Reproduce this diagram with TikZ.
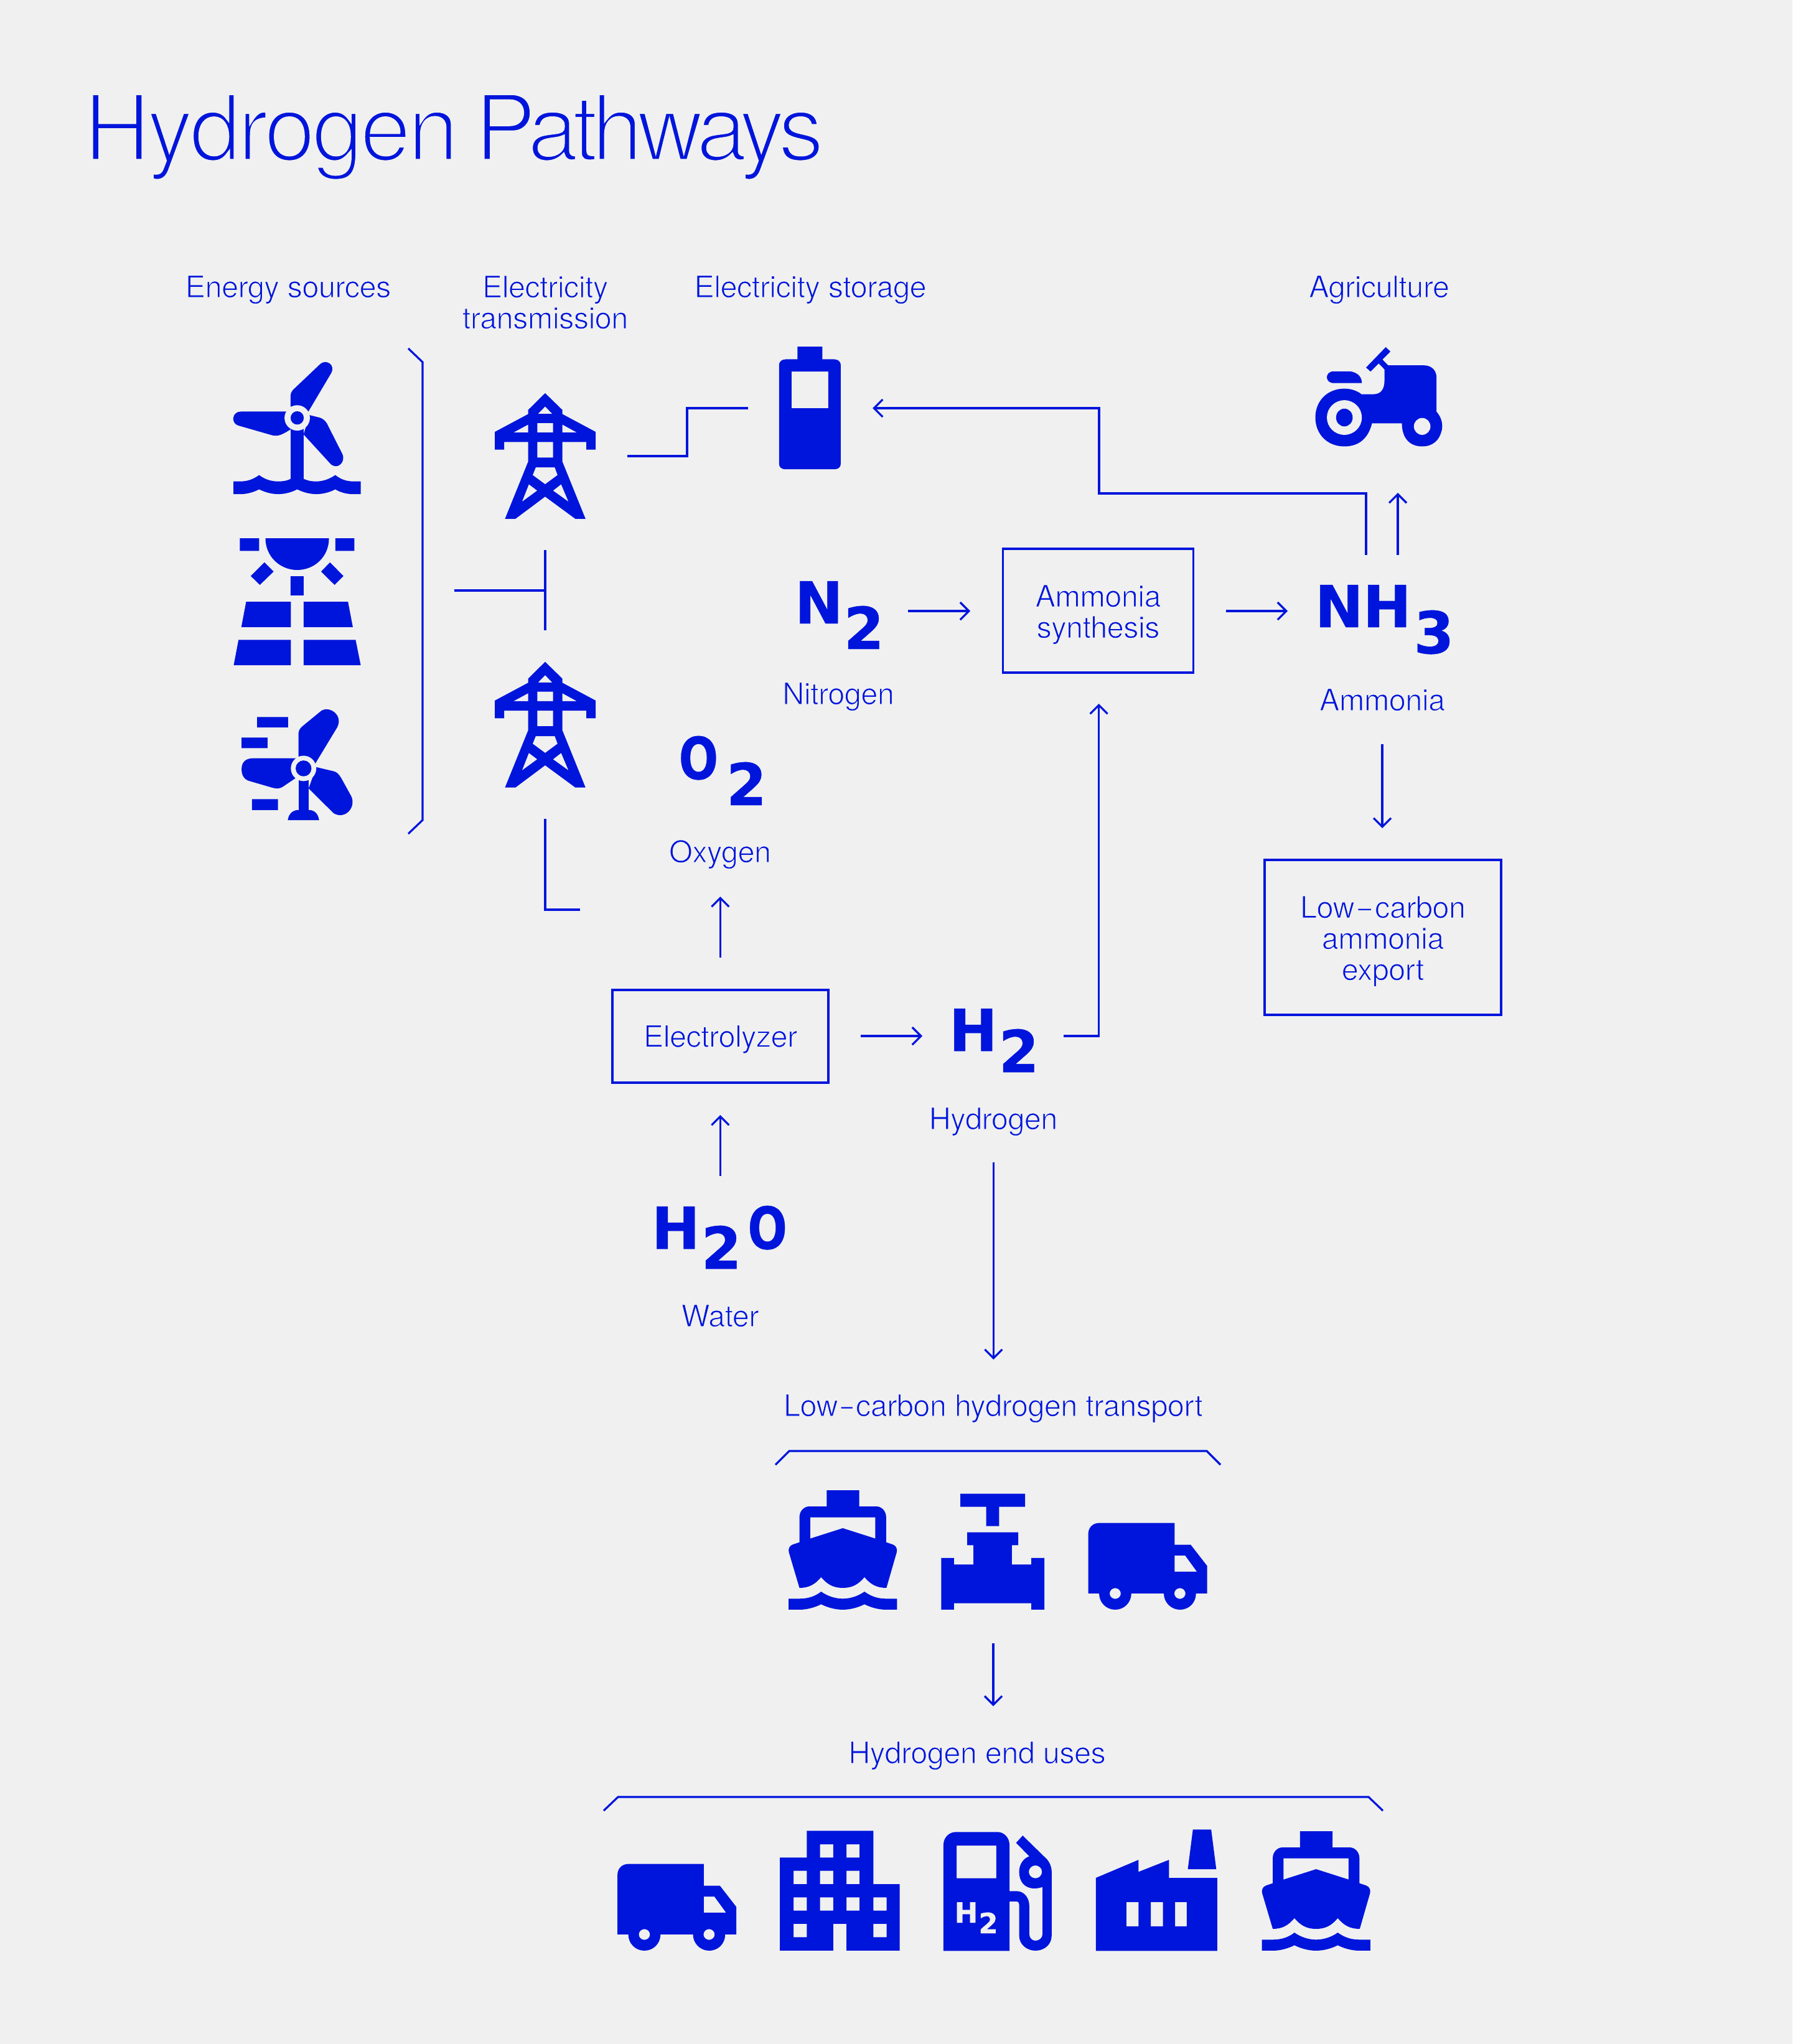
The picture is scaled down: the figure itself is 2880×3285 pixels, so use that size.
\documentclass[tikz,border=0pt]{standalone}
\usepackage{fontspec}
\usetikzlibrary{arrows.meta}
\setmainfont{TeX Gyre Heros}
\newfontfamily\lblfont{TeX Gyre Heros}[LetterSpace=-1.2]
\newfontfamily\ttlfont{TeX Gyre Heros}[LetterSpace=-6.5]
\newfontfamily\ttlwide{TeX Gyre Heros}[LetterSpace=-3.7]
\newfontfamily\chemfont{DejaVu Sans Bold}[FakeBold=0.5]
\definecolor{hblue}{HTML}{0015DC}
\definecolor{bgc}{HTML}{F0F0F0}
\newdimen\px \px=0.1mm
\newcommand{\lw}[1]{\special{pdf:code 2 Tr 0.941 0.941 0.941 RG 0.34 w}#1\special{pdf:code 0 Tr}}
\newcommand{\tw}[1]{\special{pdf:code 2 Tr 0.941 0.941 0.941 RG 1.5 w}#1\special{pdf:code 0 Tr}}
\newcommand{\fs}{\rule{0pt}{48\px}}
\newcommand{\sub}[3]{\kern#1\px\lower#2\px\hbox{#3}}
\newcommand{\narrowO}{\scalebox{.8}[1]{O}}
\newcommand{\longhy}[1]{\scalebox{#1}[1]{\lw{-}}}
\tikzset{
  z1/.style={shift={(340,540)},x=.04082mm,y=-.05102mm},
  z2/.style={shift={(1200,2360)},x=.04974mm,y=-.03333mm},
  z3/.style={shift={(960,2900)},x=.08163mm,y=-.03333mm},
  z4/.style={shift={(1200,540)},x=.07398mm,y=-.03571mm},
  ink/.style={fill=hblue,draw=none},
  gapfill/.style={fill=bgc,draw=none},
  conn/.style={draw=hblue,line width=.32mm},
  arr/.style={conn,-{Straight Barb[length=1.4mm,width=2.8mm]}},
  txt/.style={text=hblue,inner sep=0pt,font=\lblfont\fontsize{13.85}{14.22}\selectfont},
  lab/.style={txt,anchor=base},
  procbox/.style={txt,draw=hblue,line width=.32mm,align=center},
  chem/.style={text=hblue,inner sep=0pt,anchor=base west,font=\chemfont\fontsize{26.5}{28}\selectfont},
}
\newcommand{\pylonpath}{(1313,180)--(1381,233)--(1381,246)--(1512,302)--(1512,358)--(1475,358)--(1475,334)--(1381,334)--(1381,396)--(1472,576)--(1432,576)--(1313,506)--(1196,576)--(1155,576)--(1246,396)--(1246,334)--(1152,334)--(1152,358)--(1115,358)--(1115,302)--(1246,246)--(1246,233)--cycle
 (1313,222)--(1341,245)--(1285,245)--cycle
 (1246,279)--(1246,304)--(1188,304)--cycle
 (1381,279)--(1381,304)--(1438,304)--cycle
 (1282,274) rectangle (1344,304)
 (1282,334) rectangle (1344,383)
 (1276,414)--(1351,414)--(1362,438)--(1313,467)--(1264,438)--cycle
 (1249,467)--(1282,487)--(1222,522)--cycle
 (1376,467)--(1405,522)--(1344,487)--cycle}
\newcommand{\shippath}{(258,105)--(363,105)--(363,183)--(418,183) .. controls (435,183) and (450,205) .. (450,235)--(450,356)--(472,367) .. controls (483,373) and (487,390) .. (484,405)--(451,576) .. controls (420,576) and (400,560) .. (380,524) .. controls (360,560) and (340,576) .. (310,576) .. controls (280,576) and (260,560) .. (240,524) .. controls (220,560) and (200,576) .. (170,576)--(136,405) .. controls (133,390) and (137,373) .. (148,367)--(170,356)--(170,235) .. controls (170,205) and (185,183) .. (202,183)--(258,183)--cycle
 (205,236)--(415,236)--(415,338)--(310,288)--(205,338)--cycle
 (135,628)--(170,628) .. controls (200,628) and (222,615) .. (240,594) .. controls (260,615) and (285,628) .. (310,628) .. controls (335,628) and (360,615) .. (380,594) .. controls (400,615) and (420,628) .. (450,628)--(485,628)--(485,681)--(450,681) .. controls (425,681) and (400,670) .. (380,655) .. controls (360,670) and (335,681) .. (310,681) .. controls (285,681) and (260,670) .. (240,655) .. controls (220,670) and (195,681) .. (170,681)--(135,681)--cycle}
\newcommand{\truckpath}{(1138,263)--(1382,263)--(1382,368)--(1434,368)--(1487,470)--(1487,603)--(1451,603) .. controls (1451,645) and (1430,681) .. (1399,681) .. controls (1370,681) and (1347,645) .. (1347,603)--(1242,603) .. controls (1242,645) and (1220,681) .. (1190,681) .. controls (1160,681) and (1138,645) .. (1138,603)--(1103,603)--(1103,315) .. controls (1103,285) and (1118,263) .. (1138,263)--cycle
 (1382,420)--(1416,420)--(1454,498)--(1382,498)--cycle
 (1190,603) ellipse [x radius=18,y radius=26]
 (1399,603) ellipse [x radius=18,y radius=26]}
\begin{document}
\begin{tikzpicture}[x=0.1mm,y=-0.1mm]
\fill[bgc] (0,0) rectangle (2880,3285);
\useasboundingbox (0,0) rectangle (2880,3285);

% ---- title and labels
\node[text=hblue,inner sep=0pt,anchor=base west,font=\ttlfont\fontsize{42.1}{44}\selectfont] (title) at (134,258) {\tw{{\ttlwide Hydrogen}\kern-6\px{} Pathways}};
\node[lab] (lEnergy) at (463,478) {\lw{Energy sources}};
\node[txt,anchor=north,align=center] (lTrans) at (876,442) {\lw{Electricity}\\\lw{transmission}};
\node[lab] (lStore) at (1302,478) {\lw{Electricity storage}};
\node[lab] (lAgri) at (2216,478) {\lw{Agriculture}};
\node[lab] (lN) at (1347,1132) {\lw{Nitrogen}};
\node[lab] (lNH) at (2221,1142) {\lw{Ammonia}};
\node[lab] (lO) at (1157,1386) {\lw{Oxygen}};
\node[lab] (lH) at (1596,1815) {\lw{Hydrogen}};
\node[lab] (lW) at (1157,2132) {\lw{Water}};
\node[lab] (lTransport) at (1596,2276) {\lw{Low}\longhy{1.75}\lw{carbon hydrogen transport}};
\node[lab] (lEnd) at (1570,2834) {\lw{Hydrogen end uses}};

% ---- process boxes
\node[procbox,minimum width=30.6mm,minimum height=19.9mm] (synth) at (1764.5,981.5) {\fs\lw{Ammonia}\\\lw{synthesis}};
\node[procbox,minimum width=34.7mm,minimum height=14.9mm] (electro) at (1157.5,1665.5) {\rule{0pt}{45\px}\lw{Electrolyzer}};
\node[procbox,minimum width=38mm,minimum height=24.9mm] (export) at (2222,1506.5) {\fs\lw{Low}\longhy{2}\lw{carbon}\\\lw{ammonia}\\\lw{export}};

% ---- chemical formulae
\node[chem] (fN) at (1276,1002) {N\sub{1}{41}{2}};
\node[chem] (fNH) at (2112,1008) {N\kern-1\px H\sub{4}{42}{3}};
\node[chem] (fO) at (1090,1252) {\narrowO\sub{13}{42}{2}};
\node[chem] (fH) at (1524,1689) {H\sub{2}{34}{2}};
\node[chem] (fW) at (1046,2007) {H\sub{2}{32}{2}\kern10\px\narrowO};

% ---- connector end points
\coordinate (cPylonOut) at (1007.5,733);
\coordinate (cA) at (1104,733);
\coordinate (cB) at (1104,656);
\coordinate (cBatIn) at (1202,656);
\coordinate (cTleft) at (730,949);
\coordinate (cTmid) at (876,949);
\coordinate (cTtop) at (876,884);
\coordinate (cTbot) at (876,1013);
\coordinate (cLowTop) at (876,1316);
\coordinate (cLowCorner) at (876,1462);
\coordinate (cLowEnd) at (932,1462);
\coordinate (cNout) at (1459,982);
\coordinate (cSynIn) at (1559,982);
\coordinate (cSynOut) at (1970,982);
\coordinate (cNHin) at (2069,982);
\coordinate (cNHa) at (2195,892);
\coordinate (cNHb) at (2195,793);
\coordinate (cNHc) at (1766,793);
\coordinate (cNHd) at (1766,656);
\coordinate (cBatBack) at (1402,656);
\coordinate (cUp0) at (2246,892);
\coordinate (cUp1) at (2246,792);
\coordinate (cDown0) at (2221,1196);
\coordinate (cDown1) at (2221,1331);
\coordinate (cOx0) at (1157.4,1539);
\coordinate (cOx1) at (1157.4,1441);
\coordinate (cWa0) at (1157.4,1890);
\coordinate (cWa1) at (1157.4,1792);
\coordinate (cEl0) at (1383,1665);
\coordinate (cEl1) at (1482,1665);
\coordinate (cHa) at (1709,1665);
\coordinate (cHb) at (1765.6,1665);
\coordinate (cHc) at (1765.6,1131);
\coordinate (cHd0) at (1596.4,1868);
\coordinate (cHd1) at (1596.4,2185);
\coordinate (cTr0) at (1596,2641);
\coordinate (cTr1) at (1596,2742);

\draw[conn] (cPylonOut)--(cA)--(cB)--(cBatIn);
\draw[conn] (cTleft)--(cTmid);
\draw[conn] (cTtop)--(cTbot);
\draw[conn] (cLowTop)--(cLowCorner)--(cLowEnd);
\draw[arr] (cNout)--(cSynIn);
\draw[arr] (cSynOut)--(cNHin);
\draw[arr] (cNHa)--(cNHb)--(cNHc)--(cNHd)--(cBatBack);
\draw[arr] (cUp0)--(cUp1);
\draw[arr] (cDown0)--(cDown1);
\draw[arr] (cOx0)--(cOx1);
\draw[arr] (cWa0)--(cWa1);
\draw[arr] (cEl0)--(cEl1);
\draw[arr] (cHa)--(cHb)--(cHc);
\draw[arr] (cHd0)--(cHd1);
\draw[arr] (cTr0)--(cTr1);

% ---- brackets
\coordinate (b1a) at (656,560); \coordinate (b1b) at (679,582); \coordinate (b1c) at (679,1318); \coordinate (b1d) at (656,1340);
\draw[conn] (b1a)--(b1b)--(b1c)--(b1d);
\coordinate (b2a) at (1246,2354); \coordinate (b2b) at (1268,2332); \coordinate (b2c) at (1939,2332); \coordinate (b2d) at (1961,2354);
\draw[conn] (b2a)--(b2b)--(b2c)--(b2d);
\coordinate (b3a) at (970,2910); \coordinate (b3b) at (993,2888); \coordinate (b3c) at (2199,2888); \coordinate (b3d) at (2222,2910);
\draw[conn] (b3a)--(b3b)--(b3c)--(b3d);

% ---- energy source icons
\begin{scope}[z1]
 % offshore wind
 \fill[ink] (311,222)--(311,190) .. controls (311,180) and (315,174) .. (320,170)--(428,88) .. controls (450,72) and (490,90) .. (470,118)--(381,238)--cycle;
 \fill[ink] (295,238)--(115,238) .. controls (80,238) and (75,275) .. (105,282)--(240,313) .. controls (262,317) and (280,310) .. (311,294)--cycle;
 \fill[ink] (385,249)--(425,257) .. controls (445,262) and (455,275) .. (460,285)--(515,372) .. controls (530,400) and (490,425) .. (465,400)--(362,310)--cycle;
 \fill[ink] (311,280) rectangle (362,460);
 \fill[ink] (86,458)--(115,458) .. controls (150,458) and (175,445) .. (187,438) .. controls (210,452) and (235,458) .. (262,458) .. controls (285,458) and (300,455) .. (311,450)--(362,450) .. controls (385,458) and (400,458) .. (412,458) .. controls (440,458) and (465,450) .. (487,438) .. controls (510,452) and (530,458) .. (560,458)--(587,458)--(587,498)--(555,498) .. controls (530,498) and (505,492) .. (487,483) .. controls (465,492) and (440,498) .. (412,498) .. controls (385,498) and (360,492) .. (337,483) .. controls (315,492) and (290,498) .. (262,498) .. controls (235,498) and (210,492) .. (187,483) .. controls (165,492) and (140,498) .. (115,498)--(86,498)--cycle;
 \fill[gapfill] (337,258) ellipse [x radius=50,y radius=40];
 \fill[ink] (337,258) ellipse [x radius=26,y radius=21];
 % solar
 \fill[ink] (212,637)--(462,637) .. controls (462,695) and (405,737) .. (337,737) .. controls (270,737) and (212,695) .. (212,637)--cycle;
 \fill[ink] (111,637) rectangle (187,677) (487,637) rectangle (562,677) (311,757) rectangle (362,817);
 \fill[ink] (208,713)--(244,742)--(190,784)--(154,756)--cycle;
 \fill[ink] (466,713)--(519,756)--(484,784)--(431,742)--cycle;
 \fill[ink] (136,837)--(312,837)--(312,917)--(117,917)--cycle;
 \fill[ink] (362,837)--(537,837)--(556,917)--(362,917)--cycle;
 \fill[ink] (106,957)--(312,957)--(312,1037)--(87,1037)--cycle;
 \fill[ink] (362,957)--(567,957)--(587,1037)--(362,1037)--cycle;
 % onshore wind
 \fill[ink] (179,1200) rectangle (301,1233) (118,1265) rectangle (220,1298) (159,1459) rectangle (261,1493);
 \fill[ink] (342,1325)--(342,1255) .. controls (342,1240) and (350,1235) .. (358,1229)--(425,1185) .. controls (455,1160) and (520,1190) .. (495,1232)--(408,1347)--cycle;
 \fill[ink] (333,1330)--(165,1330) .. controls (130,1330) and (118,1345) .. (118,1365) .. controls (118,1385) and (130,1398) .. (150,1402)--(240,1423) .. controls (260,1427) and (270,1425) .. (280,1420)--(330,1393)--cycle;
 \fill[ink] (412,1358)--(475,1370) .. controls (495,1373) and (500,1380) .. (510,1392)--(550,1450) .. controls (570,1485) and (525,1525) .. (480,1503)--(382,1425)--cycle;
 \fill[ink] (342,1385) rectangle (382,1500);
 \fill[ink] (300,1525) .. controls (303,1505) and (320,1493) .. (342,1493)--(382,1493) .. controls (405,1493) and (420,1505) .. (423,1525)--cycle;
 \fill[gapfill] (362,1362) ellipse [x radius=50,y radius=40];
 \fill[ink] (362,1362) ellipse [x radius=31,y radius=25];
 % pylon
 \fill[ink,even odd rule] \pylonpath;
\end{scope}
\begin{scope}[shift={(0,431.8)}]
 \begin{scope}[z1]
 \fill[ink,even odd rule] \pylonpath;
 \end{scope}
\end{scope}

% ---- battery and tractor
\begin{scope}[z4]
 \fill[ink,even odd rule] (110,48)--(164,48)--(164,105)--(190,105) .. controls (199,105) and (204,118) .. (204,130)--(204,575) .. controls (204,590) and (199,600) .. (190,600)--(84,600) .. controls (75,600) and (70,590) .. (70,575)--(70,130) .. controls (70,118) and (75,105) .. (84,105)--(110,105)--cycle (97,160) rectangle (177,325);
 \fill[ink] (1388,50)--(1398,70)--(1355,160)--(1345,142)--cycle;
 \fill[ink] (1378,100)--(1393,132)--(1470,132) .. controls (1490,132) and (1498,160) .. (1498,185)--(1498,340) .. controls (1508,365) and (1512,390) .. (1510,420) .. controls (1505,470) and (1490,497) .. (1467,497) .. controls (1440,497) and (1423,460) .. (1423,393)--(1358,393) .. controls (1350,460) and (1330,497) .. (1298,497) .. controls (1260,497) and (1235,440) .. (1235,367) .. controls (1235,290) and (1262,237) .. (1298,237) .. controls (1315,237) and (1328,250) .. (1335,262)--(1362,262) .. controls (1380,262) and (1385,230) .. (1385,205)--(1385,150)--(1370,118)--cycle;
 \fill[ink] (1275,159)--(1310,159) .. controls (1330,165) and (1336,190) .. (1336,212)--(1275,212) .. controls (1255,212) and (1255,159) .. (1275,159)--cycle;
 \fill[gapfill] (1298,367) ellipse [x radius=38,y radius=78];
 \fill[ink] (1298,367) ellipse [x radius=18,y radius=40];
 \fill[gapfill] (1467,407) ellipse [x radius=18,y radius=38];
\end{scope}

% ---- transport icons
\begin{scope}[z2]
 \fill[ink,even odd rule] \shippath;
 \fill[ink] (690,122) rectangle (899,185) (773,185) rectangle (815,278);
 \fill[ink] (712,308)--(877,308)--(877,370)--(856,370)--(856,463)--(919,463)--(919,432)--(961,432)--(961,681)--(919,681)--(919,650)--(669,650)--(669,681)--(628,681)--(628,432)--(669,432)--(669,463)--(732,463)--(732,370)--(712,370)--cycle;
 \fill[ink,even odd rule] \truckpath;
\end{scope}

% ---- end-use icons
\begin{scope}[shift={(-756.5,548)}]
 \begin{scope}[z2]
 \fill[ink,even odd rule] \truckpath;
 \end{scope}
\end{scope}
\begin{scope}[shift={(760.5,548)}]
 \begin{scope}[z2]
 \fill[ink,even odd rule] \shippath;
 \end{scope}
\end{scope}
\begin{scope}[z3]
 % building
 \fill[ink,even odd rule] (412,127)--(543,127)--(543,384)--(595,384)--(595,705)--(490,705)--(490,576)--(464,576)--(464,705)--(359,705)--(359,256)--(412,256)--cycle
  (438,192) rectangle (464,256) (490,192) rectangle (516,256)
  (386,320) rectangle (412,384) (438,320) rectangle (464,384) (490,320) rectangle (516,384)
  (386,448) rectangle (412,512) (438,448) rectangle (464,512) (490,448) rectangle (516,512) (543,448) rectangle (569,512)
  (386,576) rectangle (412,640) (543,576) rectangle (569,640);
 % pump
 \fill[ink,even odd rule] (705,133)--(788,133) .. controls (800,133) and (811,160) .. (811,195)--(811,418)--(825,418) .. controls (840,418) and (850,450) .. (850,490)--(850,625) .. controls (850,645) and (856,657) .. (862,657) .. controls (869,657) and (876,645) .. (876,625)--(876,398) .. controls (870,403) and (865,405) .. (860,405) .. controls (840,405) and (830,370) .. (830,325) .. controls (830,290) and (838,260) .. (850,250)--(824,185)--(837,150)--(885,265) .. controls (890,280) and (894,300) .. (894,325)--(894,632) .. controls (894,675) and (880,705) .. (862,705) .. controls (845,705) and (830,675) .. (830,632)--(830,490) .. controls (830,480) and (830,468) .. (825,468)--(811,468)--(811,706)--(681,706)--(681,195) .. controls (681,160) and (692,133) .. (705,133)--cycle
  (707,198) rectangle (785,356)
  (862,325) ellipse [x radius=13,y radius=31];
 % factory
 \fill[ink,even odd rule] (981,354)--(1065,267)--(1065,325)--(1125,267)--(1125,354)--(1220,354)--(1220,706)--(981,706)--cycle
  (1041,471) rectangle (1065,588) (1089,471) rectangle (1113,588) (1137,471) rectangle (1160,588);
 \fill[ink] (1172,121)--(1208,121)--(1218,312)--(1162,312)--cycle;
\end{scope}
% pump lettering on top of the icon
\node[text=bgc,inner sep=0pt,anchor=base west,font=\chemfont\fontsize{12.8}{14}\selectfont] (fPump) at (1533,3090) {H\sub{1}{17}{2}};
\end{tikzpicture}
\end{document}
